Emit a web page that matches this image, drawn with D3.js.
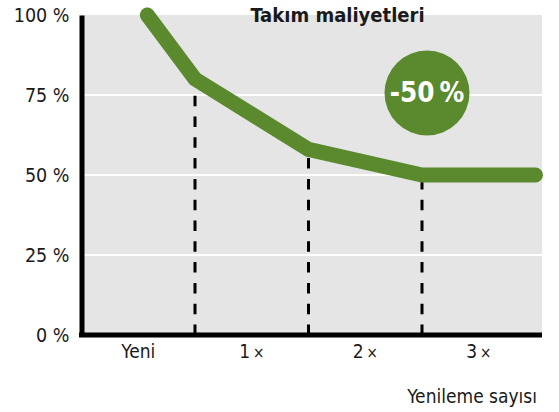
<!DOCTYPE html>
<html>
<head>
<meta charset="utf-8">
<script src="https://cdn.jsdelivr.net/npm/d3@7"></script>
<style>
  html, body { margin: 0; padding: 0; background: #fff; }
  svg { display: block; }
  text { font-family: "DejaVu Sans Condensed", "DejaVu Sans", sans-serif; fill: #1a1a1a; }
</style>
</head>
<body>
<svg id="chart" width="559" height="412"></svg>
<script>
// Renewal count categories along the x axis
const categories = ["Yeni", "1", "2", "3"];
const categorySuffix = ["", "\u202F×", "\u202F×", "\u202F×"];
// Cost curve: position on the renewal axis and relative cost (%)
const costPositions = [0.58, 1, 2, 3, 4];
const costValues = [100, 80, 58, 50, 50];
// Boundaries between categories, marked with dashed drop lines
const boundaries = [1, 2, 3];
// Y axis ticks
const yTicks = [0, 25, 50, 75, 100];

const title = "Takım maliyetleri";
const badgeText = "-50\u202F%";
const xTitle = "Yenileme sayısı";

const green = "#5b8a2e";
const svg = d3.select("#chart");

const plot = { left: 81.5, right: 542, top: 15, bottom: 335 };

const x = d3.scaleLinear().domain([0, 4]).range([plot.left, 535.5]);
const y = d3.scaleLinear().domain([0, 100]).range([plot.bottom, plot.top]);

// Grey plot background
svg.append("rect")
  .attr("x", plot.left)
  .attr("y", plot.top)
  .attr("width", plot.right - plot.left)
  .attr("height", plot.bottom - plot.top)
  .attr("fill", "#e5e5e5");

// White horizontal grid lines
svg.append("g")
  .selectAll("line")
  .data(yTicks.filter(d => d > 0 && d < 100))
  .join("line")
  .attr("x1", plot.left)
  .attr("x2", plot.right)
  .attr("y1", d => y(d))
  .attr("y2", d => y(d))
  .attr("stroke", "#fff")
  .attr("stroke-width", 2);

// Dashed drop lines at category boundaries
const valueAt = p => costValues[costPositions.indexOf(p)];
svg.append("g")
  .selectAll("line")
  .data(boundaries)
  .join("line")
  .attr("x1", d => x(d))
  .attr("x2", d => x(d))
  .attr("y1", plot.bottom)
  .attr("y2", d => y(valueAt(d)))
  .attr("stroke", "#000")
  .attr("stroke-width", 3)
  .attr("stroke-dasharray", "10.5,10.3");

// Axes
const yAxis = svg.append("g")
  .attr("transform", `translate(${plot.left},0)`)
  .call(d3.axisLeft(y).tickValues(yTicks).tickSize(0).tickPadding(12).tickFormat(d => d + "\u00A0%"));
yAxis.select(".domain").attr("stroke", "#000").attr("stroke-width", 5);
yAxis.selectAll(".tick text")
  .attr("font-size", 19.5)
  .attr("font-family", "'DejaVu Sans Condensed', sans-serif")
  .attr("fill", "#1a1a1a");

const xBand = d3.scaleBand().domain(categories).range([x(0), x(4)]);
const xAxis = svg.append("g")
  .attr("transform", `translate(0,${plot.bottom})`)
  .call(d3.axisBottom(xBand).tickSize(0).tickPadding(10));
xAxis.select(".domain")
  .attr("d", `M${plot.left - 2.5},0H${plot.right}`)
  .attr("stroke", "#000")
  .attr("stroke-width", 5);
xAxis.selectAll(".tick text")
  .attr("font-size", 19)
  .attr("font-family", "'DejaVu Sans Condensed', sans-serif")
  .attr("fill", "#1a1a1a")
  .each(function (d, i) {
    const t = d3.select(this);
    t.text(d);
    if (categorySuffix[i]) {
      t.append("tspan").attr("font-size", 15).text(categorySuffix[i]);
    }
  });

// Cost curve
const line = d3.line()
  .x((d, i) => x(costPositions[i]))
  .y(d => y(d));
svg.append("path")
  .datum(costValues)
  .attr("d", line)
  .attr("fill", "none")
  .attr("stroke", green)
  .attr("stroke-width", 15)
  .attr("stroke-linecap", "round")
  .attr("stroke-linejoin", "miter");

// Title
svg.append("text")
  .attr("x", 337.5)
  .attr("y", 22)
  .attr("text-anchor", "middle")
  .attr("font-size", 20)
  .attr("font-weight", "bold")
  .text(title);

// Savings badge
svg.append("circle")
  .attr("cx", 427)
  .attr("cy", 93)
  .attr("r", 42.5)
  .attr("fill", green);
svg.append("text")
  .attr("x", 427)
  .attr("y", 102)
  .attr("text-anchor", "middle")
  .attr("font-size", 27.5)
  .attr("font-weight", "bold")
  .style("fill", "#fff")
  .text(badgeText);

// X axis title
svg.append("text")
  .attr("x", 537)
  .attr("y", 403)
  .attr("text-anchor", "end")
  .attr("font-size", 19)
  .text(xTitle);
</script>
</body>
</html>
